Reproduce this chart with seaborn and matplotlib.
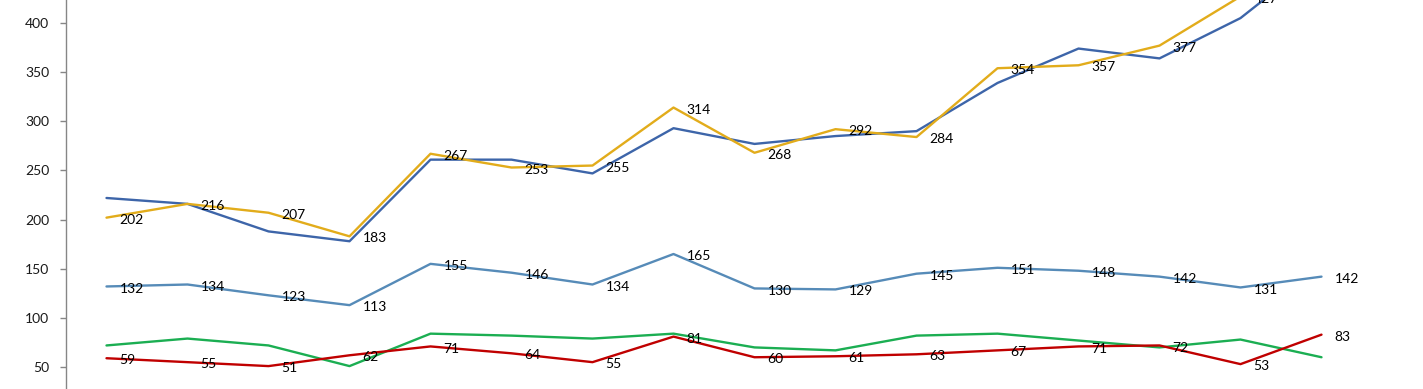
import numpy as np
import pandas as pd
import matplotlib
matplotlib.use("Agg")
import matplotlib.pyplot as plt
import seaborn as sns

# x categories (16 periods)
periods = list(range(1, 17))

# series values
dark_blue = [222, 216, 188, 178, 261, 261, 247, 293, 277, 285, 290, 339, 374, 364, 405, 470]
gold = [202, 216, 207, 183, 267, 253, 255, 314, 268, 292, 284, 354, 357, 377, 427, 455]
steel_blue = [132, 134, 123, 113, 155, 146, 134, 165, 130, 129, 145, 151, 148, 142, 131, 142]
green = [72, 79, 72, 51, 84, 82, 79, 84, 70, 67, 82, 84, 77, 70, 78, 60]
red = [59, 55, 51, 62, 71, 64, 55, 81, 60, 61, 63, 67, 71, 72, 53, 83]

series_names = ["S1", "S2", "S3", "S4", "S5"]
series_values = [dark_blue, gold, steel_blue, green, red]
colors = ["#3D65A9", "#E2AC1B", "#568BB8", "#1BAE52", "#C00000"]
labelled = ["S2", "S3", "S5"]

rows = []
for name, vals in zip(series_names, series_values):
    for i, v in enumerate(vals):
        rows.append({"idx": i, "period": periods[i], "value": v, "series": name})
df = pd.DataFrame(rows)

sns.set_style("white")
plt.rcParams["font.family"] = ["Lato", "DejaVu Sans"]

fig = plt.figure(figsize=(14.23, 3.89), dpi=100)
ax = fig.add_axes([66 / 1423, 0, (1362 - 66) / 1423, 1])

sns.lineplot(
    data=df, x="idx", y="value", hue="series",
    palette=dict(zip(series_names, colors)),
    linewidth=1.7, legend=False, ax=ax, sort=False
)

y_top = 423.4

# data labels to the right of each point (skip the ones far off the visible area)
for name in labelled:
    sub = df[df["series"] == name]
    for _, r in sub.iterrows():
        if r["value"] > y_top + 10:
            continue
        ax.annotate(
            str(r["value"]), (r["idx"], r["value"]),
            xytext=(9.5, -1.5), textcoords="offset points",
            ha="left", va="center", fontsize=10, color="black",
            annotation_clip=False
        )

ax.set_xlim(-0.5, 15.5)
ax.set_ylim(27.7, y_top)
ax.set_yticks([50, 100, 150, 200, 250, 300, 350, 400])
ax.set_xticks([])
ax.set_xlabel("")
ax.set_ylabel("")

for s in ["top", "right", "bottom"]:
    ax.spines[s].set_visible(False)
ax.spines["left"].set_color("#868686")
ax.spines["left"].set_linewidth(1.0)
ax.tick_params(axis="y", direction="out", length=4, width=1, color="#868686",
               labelsize=10, labelcolor="#1a1a1a", pad=8, left=True)

fig.savefig("out.png", dpi=100)
